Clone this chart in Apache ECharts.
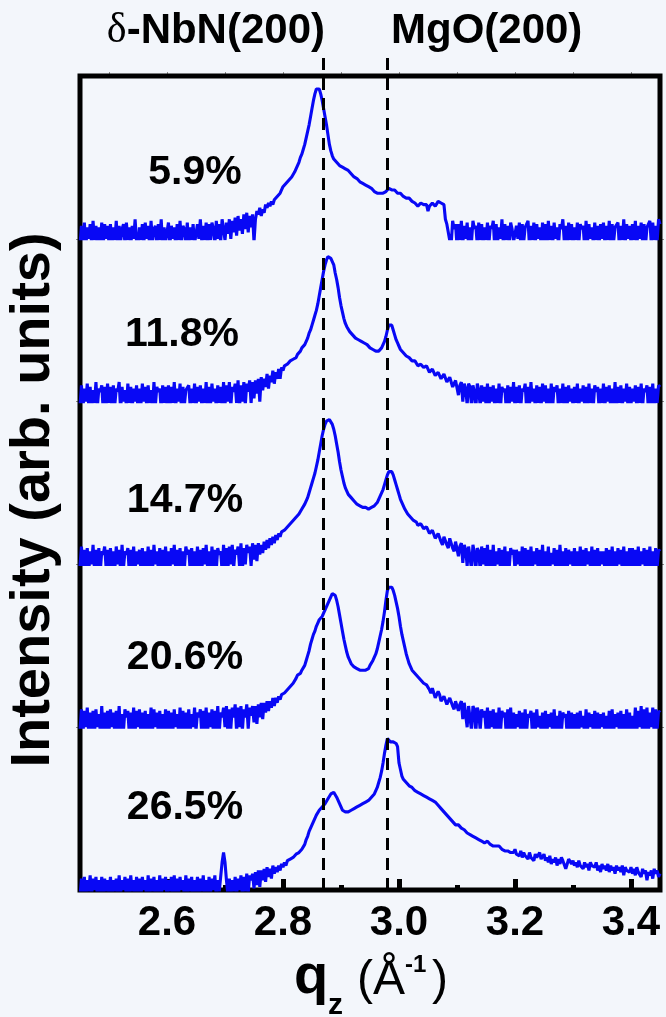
<!DOCTYPE html>
<html>
<head>
<meta charset="utf-8">
<title>NbN / MgO q_z scans</title>
<script src="https://cdn.jsdelivr.net/npm/echarts@6/dist/echarts.min.js"></script>
<style>
html, body { margin: 0; padding: 0; background: #f3f6fb; }
#chart { width: 666px; height: 1017px; }
</style>
</head>
<body>
<div id="chart"></div>
<script>
// q_z sampling of every scan: 2.45 .. 3.45, one point per 0.0025 (20 points per row below)
const qStart = 2.45;
const qStep = 0.0025;

const qzTicks = [2.6, 2.8, 3.0, 3.2, 3.4];
const qzMinorTicks = [2.5, 2.7, 2.9, 3.1, 3.3];
const qzTopTicks = [2.5, 2.6, 2.7, 2.8, 2.9, 3.0, 3.1, 3.2, 3.3, 3.4];
const peakLines = [2.87, 2.985];            // δ-NbN(200), MgO(200)
const samples = ['5.9%', '11.8%', '14.7%', '20.6%', '26.5%'];

// intensities (0 = panel bottom, 100 = panel top)
const int59 = [
    -4, 8, -2, 10, -5, 7, 0, 9, -3, 11, -1, 8, -6, 7, -2, 10, -4, 9, 0, 8,
    -3, 9, -5, 7, -1, 11, -4, 8, -2, 6, 9, -3, 10, -1, 7, -5, 8, 0, 12, -2,
    -5, 7, -1, 9, -3, 10, 0, 8, -4, 11, -2, 6, 8, -3, 9, -1, 12, -4, 7, -2,
    -2, 10, -4, 8, 0, 7, -5, 9, -1, 11, -3, 8, 6, -2, 10, -4, 7, -1, 9, -3,
    -3, 9, 0, 12, -2, 8, -1, 10, -4, 9, -1, 10, 6, -3, 11, 0, 9, -2, 12, 6,
    -1, 10, 3, 12, 0, 11, 4, 13, 2, 14, 5, 12, 3, 15, 6, 16, 4, 14, 7, 15,
    -2, 12, 17, 15, 19, 14, 18, 16, 21, 19, 22, 20, 23, 21, 24, 25, 26, 25, 28, 29,
    32, 33, 34, 35, 36, 37, 38, 39, 41, 43, 45, 47, 50, 52, 55, 58, 62, 66, 70, 75,
    80, 85, 89, 92, 93, 92, 89, 85, 80, 75, 70, 64, 58, 54, 51, 49, 48, 47, 46, 45,
    45, 44, 44, 43, 42, 42, 41, 40, 39, 38, 37, 37, 36, 35, 35, 34, 34, 33, 32, 32,
    31, 31, 30, 29, 29, 28, 28, 28, 29, 28, 28, 29, 30, 31, 31, 30, 29, 30, 29, 28,
    27, 28, 27, 26, 26, 25, 24, 25, 25, 23, 23, 22, 22, 20, 19, 22, 22, 21, 20, 21,
    17, 20, 21, 22, 22, 20, 21, 23, 23, 22, 23, 21, 12, 9, 10, -1, -3, 11, 6, 9,
    -4, 9, -1, 11, -3, 8, 0, 10, -5, 7, -2, 11, 6, 8, -4, 10, -1, 9, -3, 7,
    -1, 10, -3, 8, 6, 11, -5, 9, -2, 7, 0, 12, -4, 9, -1, 8, -3, 10, 6, -2,
    -3, 8, 0, 10, -4, 9, -2, 7, 6, 11, -5, 8, -1, 10, -3, 9, 0, 7, -4, 10,
    -2, 9, -5, 11, -1, 8, -3, 10, 0, 7, -4, 9, 6, 12, -2, 8, -5, 10, -1, 9,
    -4, 7, -1, 10, -3, 9, 6, 8, -5, 11, -2, 9, 0, 7, -3, 10, -1, 8, -4, 9,
    0, 10, -3, 8, -1, 11, -4, 9, -2, 7, 6, 10, -5, 8, -1, 12, -3, 9, 0, 8,
    -3, 9, -1, 11, -5, 8, 0, 10, -2, 9, -4, 7, 6, 11, -3, 10, -1, 8, -2, 12,
    9
];
const int118 = [
    -3, 10, -5, 8, 0, 11, -2, 9, -4, 7, -1, 12, -3, 8, 6, 10, -5, 9, -2, 11,
    -1, 9, -4, 10, -2, 8, 6, 12, -5, 9, 0, 7, -3, 11, -1, 9, -4, 8, 0, 10,
    -5, 8, -2, 11, 0, 9, -3, 10, -1, 7, -4, 12, -2, 9, 6, 8, -5, 10, -1, 9,
    -2, 10, -4, 9, -1, 12, -3, 8, 0, 11, -5, 9, -2, 7, 6, 10, -3, 8, -1, 11,
    -4, 9, 0, 10, -3, 8, -1, 12, -5, 9, -2, 11, 0, 8, -4, 10, -1, 9, -3, 12,
    -2, 10, 0, 12, -3, 9, 6, 11, -1, 13, -4, 10, 0, 12, -2, 11, 6, 13, -1, 12,
    2, 13, 5, 14, 0, 15, 7, 14, 9, 17, 8, 16, 12, 19, 11, 18, 14, 20, 14, 21,
    19, 22, 21, 23, 22, 25, 24, 26, 27, 27, 29, 30, 31, 33, 34, 35, 37, 39, 42, 44,
    47, 50, 53, 56, 60, 65, 70, 75, 80, 84, 87, 89, 89, 88, 87, 84, 79, 75, 70, 64,
    59, 55, 51, 48, 46, 45, 43, 42, 41, 40, 39, 39, 38, 38, 37, 37, 36, 35, 35, 34,
    33, 33, 32, 31, 31, 30, 31, 32, 33, 35, 37, 40, 44, 47, 48, 47, 44, 41, 38, 36,
    34, 32, 31, 30, 29, 28, 27, 27, 26, 25, 24, 25, 24, 22, 21, 23, 23, 21, 20, 22,
    21, 18, 17, 20, 19, 16, 15, 18, 18, 14, 13, 17, 16, 12, 11, 15, 14, 9, 8, 13,
    13, 4, 10, 12, 0, 11, 8, -2, 11, 9, -3, 10, 6, -4, 11, 7, -3, 10, 0, 9,
    -2, 11, -5, 9, 0, 10, -3, 8, -1, 11, -4, 9, 6, 8, -5, 10, -2, 9, 0, 12,
    -4, 9, -1, 10, -3, 8, 6, 11, -5, 9, -2, 12, 0, 8, -4, 10, -1, 9, -3, 11,
    0, 10, -5, 8, -2, 11, -3, 9, 6, 10, -4, 8, -1, 11, -5, 9, -2, 10, 0, 8,
    -3, 9, -1, 11, -4, 8, 0, 10, -2, 9, -5, 11, -1, 8, -3, 10, 6, 9, -4, 8,
    -1, 11, -3, 9, 0, 10, -5, 8, -2, 12, -4, 9, -1, 10, -3, 8, 0, 11, -5, 9,
    -2, 8, 0, 10, -4, 9, -1, 11, -3, 8, 6, 10, -5, 9, -2, 11, -4, 8, -1, 10,
    9
];
const int147 = [
    -1, 11, -4, 9, -2, 10, -5, 8, 0, 12, -3, 9, -1, 10, -4, 8, 6, 11, -2, 9,
    -5, 10, -1, 8, -3, 11, 0, 9, -4, 12, -2, 8, 6, 10, -5, 9, -1, 11, -3, 8,
    0, 9, -3, 10, -5, 8, -1, 11, -2, 9, -4, 12, 0, 8, -3, 10, -1, 9, -5, 11,
    -2, 8, -4, 10, 0, 12, -3, 9, -1, 10, -5, 8, -2, 11, 6, 9, -4, 10, -1, 8,
    -3, 11, -1, 9, -4, 10, 0, 12, -2, 8, -5, 11, -1, 9, -3, 10, 6, 8, -4, 12,
    -1, 10, -3, 11, 0, 12, -2, 9, 6, 11, -1, 13, -3, 10, 0, 12, 7, 11, -1, 13,
    3, 12, 2, 13, 6, 12, 7, 14, 9, 15, 10, 16, 12, 17, 13, 18, 15, 19, 17, 20,
    20, 21, 22, 23, 23, 25, 26, 27, 27, 29, 30, 31, 32, 34, 35, 37, 39, 41, 44, 47,
    50, 53, 56, 60, 64, 69, 74, 79, 83, 86, 88, 89, 89, 88, 86, 83, 79, 74, 69, 63,
    58, 54, 50, 47, 45, 43, 42, 41, 40, 39, 38, 37, 36, 36, 35, 35, 35, 35, 35, 34,
    35, 35, 36, 36, 37, 38, 40, 42, 44, 46, 49, 52, 55, 57, 58, 57, 55, 52, 49, 46,
    43, 40, 38, 36, 34, 33, 31, 30, 29, 28, 27, 27, 26, 24, 23, 25, 25, 22, 21, 23,
    22, 19, 18, 21, 20, 16, 15, 19, 19, 14, 12, 17, 17, 12, 10, 16, 15, 10, 8, 14,
    14, 5, 11, 13, 1, 12, 9, -1, 11, 10, -3, 12, 7, -3, 10, 8, -4, 11, 0, 10,
    -1, 12, -5, 9, -2, 12, -3, 8, 0, 10, -4, 9, -1, 11, -5, 8, -2, 10, 6, 9,
    -3, 9, 0, 8, -4, 11, -2, 10, -1, 9, -5, 11, -3, 8, 0, 10, -4, 9, -2, 12,
    -5, 8, -1, 11, -3, 7, 0, 10, -2, 9, -4, 12, -1, 8, -5, 10, -3, 9, 0, 8,
    -2, 10, -4, 8, -1, 11, -3, 9, -5, 10, 0, 8, -2, 11, -4, 9, -1, 10, -3, 8,
    0, 8, -4, 10, -2, 9, -5, 11, -1, 8, -3, 10, 0, 9, -4, 11, -2, 8, -5, 10,
    -3, 10, -1, 9, -4, 11, -2, 8, 0, 10, -5, 9, -3, 11, -1, 8, -4, 10, -2, 9,
    8
];
const int206 = [
    -2, 11, -5, 10, 0, 12, -3, 9, -1, 10, -4, 11, 0, 8, -3, 13, -5, 9, -1, 10,
    -3, 11, 0, 9, -4, 10, -1, 13, -5, 8, -2, 11, 6, 10, -4, 9, -1, 12, -3, 10,
    0, 11, -4, 9, -2, 10, -5, 8, -1, 12, -3, 11, 0, 9, -4, 10, -2, 8, -1, 11,
    -5, 10, -1, 9, -3, 11, 0, 8, -4, 12, -2, 10, -5, 9, -1, 11, -3, 8, 0, 12,
    -2, 9, 6, 11, -5, 10, -1, 12, -3, 9, 0, 11, -4, 10, -1, 13, -3, 9, 6, 12,
    0, 13, -4, 11, -1, 12, 6, 14, -3, 12, 0, 13, -2, 11, 6, 14, -1, 12, 7, 13,
    3, 13, 2, 14, 6, 15, 5, 15, 9, 16, 10, 16, 12, 18, 13, 18, 15, 19, 17, 20,
    19, 21, 22, 23, 23, 25, 26, 27, 28, 30, 32, 33, 33, 35, 36, 38, 41, 44, 47, 51,
    54, 57, 59, 62, 64, 66, 67, 68, 70, 72, 74, 76, 78, 80, 82, 82, 81, 78, 74, 69,
    64, 59, 54, 50, 46, 43, 41, 39, 38, 37, 37, 36, 35, 35, 34, 35, 36, 35, 35, 36,
    38, 39, 41, 43, 45, 48, 52, 56, 60, 65, 71, 78, 84, 86, 87, 86, 84, 81, 77, 73,
    68, 62, 57, 53, 49, 45, 42, 39, 37, 35, 34, 33, 32, 31, 30, 29, 28, 27, 26, 26,
    25, 23, 21, 24, 23, 18, 20, 22, 20, 16, 15, 19, 20, 14, 13, 18, 19, 13, 11, 16,
    17, 10, 14, 16, 5, 15, 14, 0, 13, 12, -2, 13, 11, -3, 12, 9, -2, 11, 6, 10,
    -1, 12, -4, 10, 0, 11, -5, 9, -2, 12, -3, 10, 6, 9, -5, 11, -1, 12, -4, 9,
    -2, 8, 0, 10, -5, 9, -1, 11, -3, 8, 6, 10, -4, 9, -2, 11, 0, 7, -3, 9,
    -1, 10, -4, 8, 0, 9, -5, 11, -2, 7, -1, 10, -3, 9, 6, 8, -5, 10, -2, 9,
    -4, 8, -1, 9, -3, 10, 0, 7, -5, 11, -2, 9, 0, 8, -4, 10, -1, 9, -3, 8,
    0, 9, -5, 7, -2, 10, -1, 11, -4, 8, 0, 9, -3, 10, -5, 8, -1, 11, -2, 9,
    -4, 7, -1, 12, -3, 10, 0, 13, -5, 11, -1, 12, -3, 9, 0, 12, -4, 11, -2, 10,
    9
];
const int265 = [
    -4, 7, -2, 8, -5, 6, -1, 9, -3, 7, 0, 8, -4, 6, -2, 8, -5, 7, -1, 6,
    -3, 8, -5, 6, -1, 7, -4, 9, -2, 6, 0, 8, -5, 7, -3, 9, -1, 6, -4, 8,
    -2, 7, -4, 8, 0, 6, -5, 9, -3, 7, -1, 8, -4, 6, -2, 9, -5, 7, 0, 8,
    -4, 6, -1, 8, -3, 9, -5, 7, -2, 8, 0, 6, -4, 9, -3, 7, -1, 8, -5, 6,
    -2, 8, -4, 7, -1, 9, -3, 6, -5, 8, -2, 7, 0, 9, -4, 6, -1, 8, 17, 23,
    17, 6, -3, 7, -4, 6, -1, 8, -3, 7, 0, 9, -4, 8, -1, 10, -2, 9, 6, 10,
    1, 11, 3, 12, 2, 12, 6, 13, 5, 14, 8, 13, 7, 15, 10, 14, 11, 15, 12, 16,
    14, 17, 15, 18, 17, 19, 18, 20, 20, 22, 21, 23, 23, 25, 26, 28, 31, 33, 36, 38,
    40, 42, 44, 46, 47, 49, 50, 51, 52, 53, 54, 56, 57, 59, 60, 60, 59, 57, 55, 53,
    51, 49, 48, 48, 48, 48, 49, 49, 50, 50, 51, 51, 52, 52, 53, 53, 54, 54, 55, 55,
    56, 57, 58, 59, 61, 63, 66, 69, 73, 78, 84, 89, 93, 92, 91, 91, 91, 90, 90, 88,
    78, 74, 70, 68, 67, 66, 65, 64, 63, 63, 62, 61, 61, 60, 60, 59, 59, 58, 58, 57,
    57, 56, 56, 55, 55, 54, 53, 52, 51, 50, 49, 48, 47, 46, 45, 44, 43, 42, 41, 40,
    40, 40, 39, 38, 37, 37, 36, 35, 35, 34, 34, 33, 33, 32, 32, 31, 31, 30, 30, 29,
    29, 30, 29, 28, 29, 27, 28, 27, 26, 27, 26, 25, 26, 24, 25, 24, 25, 23, 24, 23,
    25, 22, 23, 21, 24, 20, 23, 21, 22, 19, 23, 20, 21, 18, 22, 20, 21, 23, 19, 18,
    22, 18, 20, 17, 21, 16, 19, 17, 20, 15, 19, 16, 20, 18, 17, 13, 16, 19, 18, 16,
    18, 15, 17, 14, 18, 15, 16, 13, 17, 14, 16, 12, 17, 15, 16, 14, 17, 12, 15, 11,
    16, 13, 15, 12, 16, 11, 15, 12, 14, 10, 15, 12, 14, 11, 15, 9, 14, 12, 13, 11,
    14, 10, 13, 9, 14, 11, 12, 8, 13, 10, 12, 6, 11, 9, 12, 7, 13, 10, 12, 8,
    10
];
const scans = [int59, int118, int147, int206, int265];

const FONT = '"Liberation Sans", Arial, sans-serif';
const BLUE = '#0808f5';
const plotLeft = 80, plotWidth = 580, plotTop = 76, plotBottom = 890;
const panelH = (plotBottom - plotTop) / 5;
const labelY = [173, 335, 501, 658, 808];
const labelX = [195, 182, 185, 185, 185];

function toPoints(vals) {
    return vals.map((v, i) => [+(qStart + i * qStep).toFixed(4), v]);
}

let grid = [], xAxis = [], yAxis = [], series = [];

// one panel per sample, stacked top to bottom
scans.forEach((vals, k) => {
    grid.push({left: plotLeft, width: plotWidth, top: plotTop + k * panelH, height: panelH});
    let xa = {gridIndex: k, type: 'value', min: 2.45, max: 3.45, show: false};
    if (k == 0) {
        xa = {
            gridIndex: 0, type: 'value', min: 2.45, max: 3.45, position: 'top',
            axisLine: {show: false, onZero: false}, splitLine: {show: false}, axisLabel: {show: false},
            axisTick: {show: true, customValues: qzTopTicks, length: 4, lineStyle: {color: '#8a8a8a', width: 1}}
        };
    }
    if (k == 4) {
        xa = {
            gridIndex: 4, type: 'value', min: 2.45, max: 3.45, position: 'bottom',
            axisLine: {show: false, onZero: false}, splitLine: {show: false}, axisLabel: {show: false},
            axisTick: {show: true, inside: true, customValues: qzMinorTicks, length: 5, lineStyle: {color: '#000', width: 5}}
        };
    }
    xAxis.push(xa);
    yAxis.push({
        gridIndex: k, type: 'value', min: 0, max: 100, position: 'left',
        axisLine: {show: false, onZero: false}, splitLine: {show: false}, axisLabel: {show: false},
        axisTick: {show: k < 4, customValues: [0], length: 4, lineStyle: {color: '#8a8a8a', width: 1}}
    });
    series.push({
        type: 'line',
        xAxisIndex: k,
        yAxisIndex: k,
        data: toPoints(vals),
        showSymbol: false,
        clip: true,
        silent: true,
        lineStyle: {color: BLUE, width: 3.1},
        z: 3
    });
});

// full-height grid carrying the q_z ticks and labels
grid.push({left: plotLeft, width: plotWidth, top: plotTop, height: plotBottom - plotTop});
xAxis.push({
    gridIndex: 5, type: 'value', min: 2.45, max: 3.45, position: 'bottom',
    axisLine: {show: false, onZero: false}, splitLine: {show: false},
    axisTick: {show: true, inside: true, customValues: qzTicks, length: 11, lineStyle: {color: '#000', width: 5}},
    axisLabel: {
        customValues: qzTicks, margin: 12,
        formatter: v => v.toFixed(1),
        fontFamily: FONT, fontSize: 42, fontWeight: 'bold', color: '#000'
    }
});
yAxis.push({gridIndex: 5, type: 'value', min: 0, max: 1, show: false});

// taller grid so the dashed peak markers run up into the header
grid.push({left: plotLeft, width: plotWidth, top: 50, height: plotBottom - 50});
xAxis.push({gridIndex: 6, type: 'value', min: 2.45, max: 3.45, show: false});
yAxis.push({gridIndex: 6, type: 'value', min: 0, max: 1, show: false});
series.push({
    type: 'line',
    xAxisIndex: 6,
    yAxisIndex: 6,
    data: [],
    silent: true,
    z: 10,
    markLine: {
        silent: true,
        symbol: 'none',
        label: {show: false},
        lineStyle: {color: '#000', width: 3, type: [12, 8]},
        data: peakLines.map(q => ({xAxis: q}))
    }
});

// small grey stubs on the right side at the panel joins
for (let k = 0; k < 4; k++) {
    yAxis.push({
        gridIndex: k, type: 'value', min: 0, max: 100, position: 'right',
        axisLine: {show: false, onZero: false}, splitLine: {show: false}, axisLabel: {show: false},
        axisTick: {show: true, customValues: [0], length: 4, lineStyle: {color: '#8a8a8a', width: 1}}
    });
}

let graphics = [{
    // thick outer frame
    type: 'rect', z: 1, silent: true,
    shape: {x: plotLeft, y: plotTop, width: plotWidth, height: plotBottom - plotTop},
    style: {fill: 'none', stroke: '#000', lineWidth: 5}
}];

samples.forEach((s, k) => {
    graphics.push({
        type: 'text', x: labelX[k], y: labelY[k], z: 20,
        style: {text: s, align: 'center', verticalAlign: 'middle', fill: '#000', font: 'bold 41px ' + FONT}
    });
});

graphics.push(
    {
        type: 'text', x: 325, y: 31, z: 20,
        style: {
            text: '{d|δ}{b|-NbN(200)}', align: 'right', verticalAlign: 'middle',
            rich: {
                d: {fontFamily: '"Liberation Serif", serif', fontSize: 42, fill: '#000'},
                b: {fontFamily: FONT, fontSize: 42, fontWeight: 'bold', fill: '#000'}
            }
        }
    },
    {
        type: 'text', x: 391, y: 31, z: 20,
        style: {text: 'MgO(200)', align: 'left', verticalAlign: 'middle', fill: '#000', font: 'bold 42px ' + FONT}
    },
    {
        type: 'text', x: 34, y: 500, rotation: Math.PI / 2, z: 20,
        style: {text: 'Intensity (arb. units)', align: 'center', verticalAlign: 'middle', fill: '#000', font: 'bold 56px ' + FONT}
    },
    // q_z (Å^-1)
    {type: 'text', x: 294, y: 978, style: {text: 'q', verticalAlign: 'middle', fill: '#000', font: 'bold 56px ' + FONT}},
    {type: 'text', x: 328, y: 1006, style: {text: 'z', verticalAlign: 'middle', fill: '#000', font: 'bold 30px ' + FONT}},
    {type: 'text', x: 357, y: 981, style: {text: '(Å', verticalAlign: 'middle', fill: '#000', font: '48px ' + FONT}},
    {type: 'text', x: 405, y: 965, style: {text: '-1', verticalAlign: 'middle', fill: '#000', font: 'bold 24px ' + FONT}},
    {type: 'text', x: 432, y: 981, style: {text: ')', verticalAlign: 'middle', fill: '#000', font: '48px ' + FONT}}
);

let myChart = echarts.init(document.getElementById('chart'));
myChart.setOption({
    backgroundColor: '#f3f6fb',
    animation: false,
    grid: grid,
    xAxis: xAxis,
    yAxis: yAxis,
    series: series,
    graphic: graphics
});
</script>
</body>
</html>
